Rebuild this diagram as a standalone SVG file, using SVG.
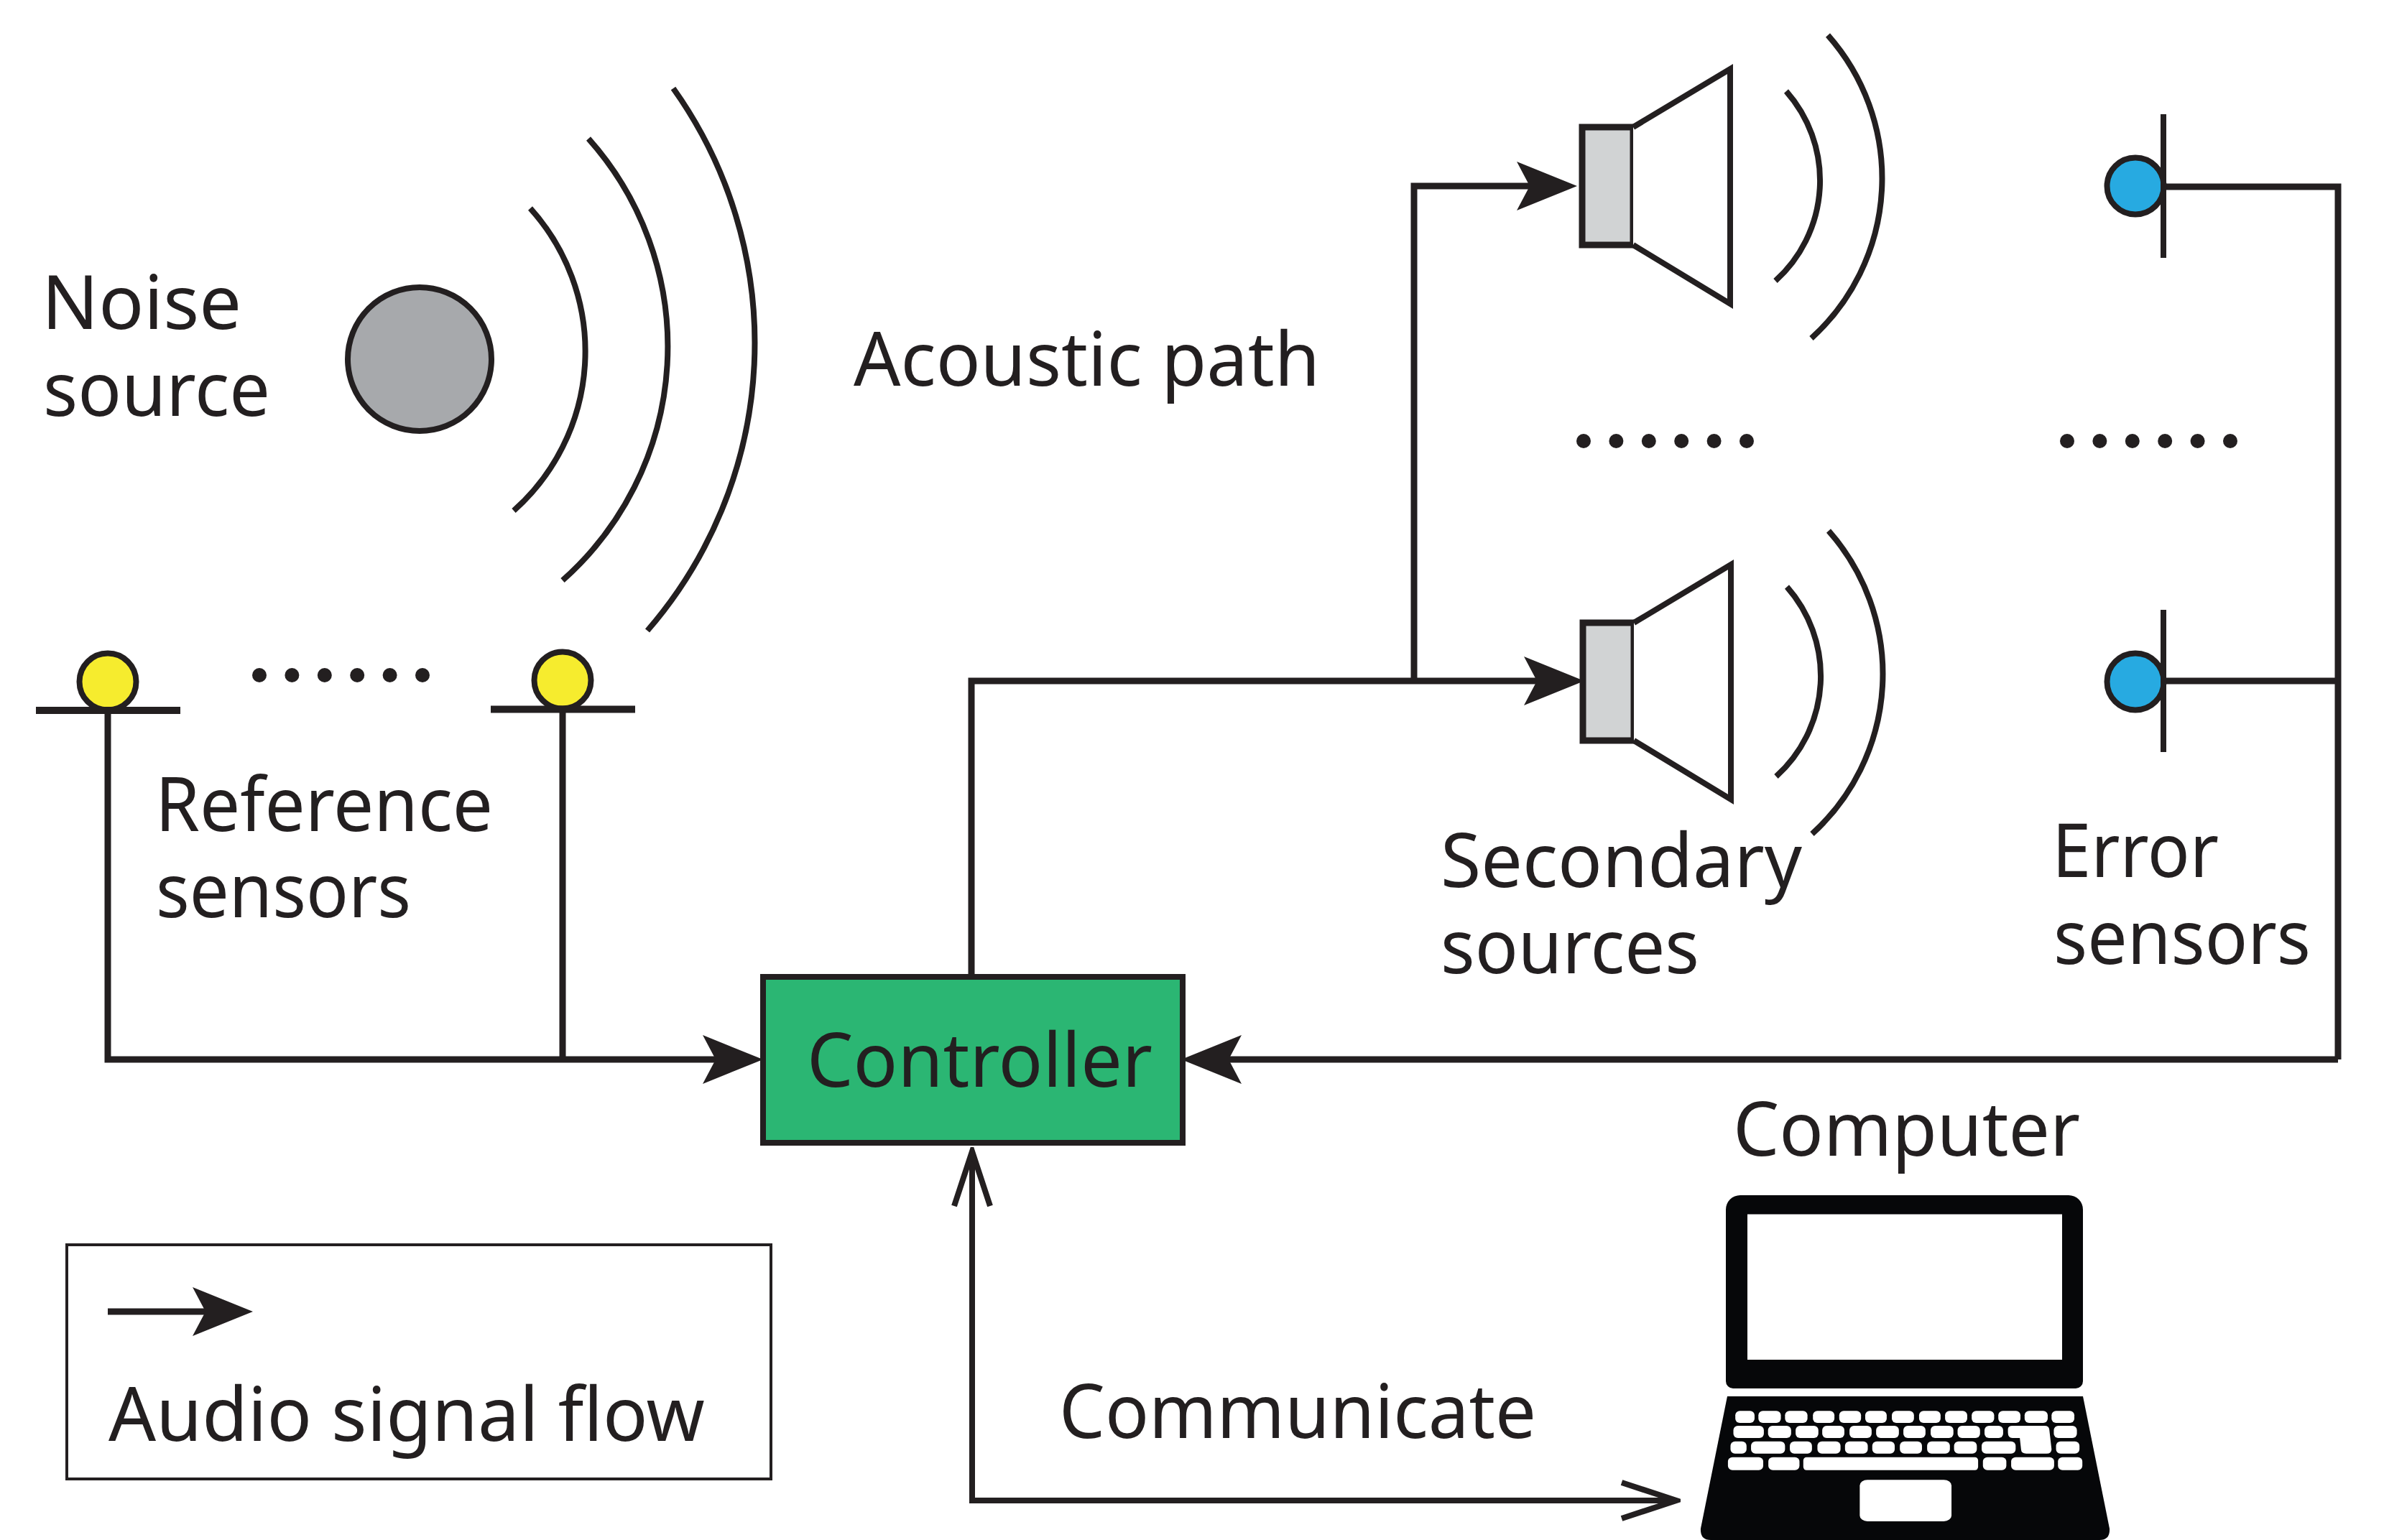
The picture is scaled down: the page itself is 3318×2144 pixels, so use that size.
<svg xmlns="http://www.w3.org/2000/svg" width="3318" height="2144" viewBox="0 0 3318 2144">
<style>
text{font-family:"Noto Sans","Open Sans","Liberation Sans",sans-serif;font-size:104px;fill:#231f20}
.ln{fill:none;stroke:#231f20;stroke-width:9;stroke-linejoin:miter}
.arc{fill:none;stroke:#231f20;stroke-width:8}
.thin{fill:none;stroke:#231f20;stroke-width:8}
.yel{fill:#f6ec2e;stroke:#231f20;stroke-width:8}
.blu{fill:#27aae1;stroke:#231f20;stroke-width:8}
.dot{fill:#231f20}
.key{fill:#fff}
.arw{marker-end:url(#solid)}
.opn{marker-start:url(#open);marker-end:url(#open)}
</style>
<defs>
<marker id="solid" markerUnits="userSpaceOnUse" viewBox="0 -36 84 72" refX="22" refY="0" markerWidth="84" markerHeight="72" orient="auto"><path d="M0-34L18 0L0 34L84 0Z" fill="#231f20"/></marker>
<marker id="open" markerUnits="userSpaceOnUse" viewBox="-84 -32 90 64" refX="0" refY="0" markerWidth="90" markerHeight="64" orient="auto-start-reverse"><path d="M-76-25L0 0L-76 25" fill="none" stroke="#231f20" stroke-width="8"/></marker>
<g id="dots6"><circle cx="0" cy="0" r="10" class="dot"/><circle cx="45.4" cy="0" r="10" class="dot"/><circle cx="90.8" cy="0" r="10" class="dot"/><circle cx="136.2" cy="0" r="10" class="dot"/><circle cx="181.6" cy="0" r="10" class="dot"/><circle cx="227" cy="0" r="10" class="dot"/></g>
<g id="spk"><rect x="2202" y="177" width="71" height="164" fill="#d1d3d4" stroke="#231f20" stroke-width="9"/><path d="M2273 177L2408 96V423L2273 341" fill="#fff" stroke="#231f20" stroke-width="8"/><path class="arc" d="M2486 127A188 188 0 0 1 2471 391"/><path class="arc" d="M2544 49A301 301 0 0 1 2521 471"/></g>
</defs>
<rect width="3318" height="2144" fill="#fff"/>
<g id="connectors">
<path class="ln arw" d="M150 994V1475H1000"/>
<path class="ln" d="M783 992V1475"/>
<path class="ln arw" d="M3254 1475H1706"/>
<path class="ln" d="M3011 260H3254V1475"/>
<path class="ln" d="M3011 948H3254"/>
<path class="ln arw" d="M1352 1360V948H2143"/>
<path class="ln arw" d="M1968 948V259H2133"/>
<path class="opn" fill="none" stroke="#231f20" stroke-width="8" d="M1353 1603V2089H2333"/>
</g>
<g id="noise-source"><circle cx="584" cy="500" r="100" fill="#a7a9ac" stroke="#231f20" stroke-width="8"/>
<text x="58" y="458" textLength="278" lengthAdjust="spacingAndGlyphs">Noise</text><text x="60" y="579" textLength="316" lengthAdjust="spacingAndGlyphs">source</text></g>
<g id="acoustic-path"><path class="arc" d="M738 290A297 297 0 0 1 715 711"/><path class="arc" d="M819 193A435 435 0 0 1 783 808"/><path class="arc" d="M937 123A611 611 0 0 1 901 878"/>
<text x="1188" y="537" textLength="649" lengthAdjust="spacingAndGlyphs">Acoustic path</text></g>
<g id="reference-sensors"><circle class="yel" cx="150" cy="949" r="39.500"/><path class="ln" style="stroke-width:10" d="M50 989H251"/><circle class="yel" cx="783" cy="947" r="39.500"/><path class="ln" style="stroke-width:10" d="M683 987.500H884"/>
<use href="#dots6" x="361" y="940"/>
<text x="216" y="1157" textLength="470" lengthAdjust="spacingAndGlyphs">Reference</text><text x="217" y="1277" textLength="355" lengthAdjust="spacingAndGlyphs">sensors</text></g>
<g id="controller"><rect x="1062" y="1360" width="584" height="231" fill="#2bb673" stroke="#231f20" stroke-width="8"/><text x="1123" y="1513" textLength="481" lengthAdjust="spacingAndGlyphs">Controller</text></g>
<g id="secondary-sources"><use href="#spk"/><use href="#spk" x="1" y="690"/>
<use href="#dots6" x="2204" y="614"/>
<text x="2005" y="1235" textLength="503" lengthAdjust="spacingAndGlyphs">Secondary</text><text x="2005" y="1355" textLength="360" lengthAdjust="spacingAndGlyphs">sources</text></g>
<g id="error-sensors"><circle class="blu" cx="2972" cy="259" r="39.500"/><path class="thin" d="M3011 159V359"/><circle class="blu" cx="2972" cy="949" r="39.500"/><path class="thin" d="M3011 849V1047"/>
<use href="#dots6" x="2877" y="614"/>
<text x="2856" y="1221" textLength="232" lengthAdjust="spacingAndGlyphs">Error</text><text x="2858" y="1342" textLength="358" lengthAdjust="spacingAndGlyphs">sensors</text></g>
<g id="computer">
<text x="2412" y="1609" textLength="483" lengthAdjust="spacingAndGlyphs">Computer</text>
<path fill="#060709" d="M2422 1664H2879A20 20 0 0 1 2899 1684V1923A10 10 0 0 1 2889 1933H2412A10 10 0 0 1 2402 1923V1684A20 20 0 0 1 2422 1664ZM2432 1690.500V1893H2870V1690.500Z" fill-rule="evenodd"/>
<path fill="#060709" d="M2404 1944H2899L2936 2128Q2937 2144 2922 2144H2381Q2366 2144 2367 2128Z"/>
<g transform="translate(2300 1620) scale(.4464 .3342)" class="key">
<rect x="258" y="1030" width="60" height="50" rx="14" ry="18"/><rect x="330" y="1030" width="70" height="50" rx="14" ry="18"/><rect x="413" y="1030" width="70" height="50" rx="14" ry="18"/><rect x="500" y="1030" width="67" height="50" rx="14" ry="18"/><rect x="582" y="1030" width="68" height="50" rx="14" ry="18"/><rect x="663" y="1030" width="67" height="50" rx="14" ry="18"/><rect x="746" y="1030" width="69" height="50" rx="14" ry="18"/><rect x="831" y="1030" width="67" height="50" rx="14" ry="18"/><rect x="912" y="1030" width="69" height="50" rx="14" ry="18"/><rect x="995" y="1030" width="70" height="50" rx="14" ry="18"/><rect x="1078" y="1030" width="69" height="50" rx="14" ry="18"/><rect x="1160" y="1030" width="72" height="50" rx="14" ry="18"/><rect x="1244" y="1030" width="71" height="50" rx="14" ry="18"/>
<rect x="252" y="1092" width="95" height="51" rx="14" ry="18"/><rect x="360" y="1092" width="72" height="51" rx="14" ry="18"/><rect x="446" y="1092" width="71" height="51" rx="14" ry="18"/><rect x="529" y="1092" width="69" height="51" rx="14" ry="18"/><rect x="614" y="1092" width="69" height="51" rx="14" ry="18"/><rect x="697" y="1092" width="71" height="51" rx="14" ry="18"/><rect x="782" y="1092" width="69" height="51" rx="14" ry="18"/><rect x="867" y="1092" width="71" height="51" rx="14" ry="18"/><rect x="951" y="1092" width="70" height="51" rx="14" ry="18"/><rect x="1035" y="1092" width="58" height="51" rx="14" ry="18"/><path d="M1122 1092H1222Q1236 1092 1237 1108L1244 1190Q1244 1208 1228 1208H1165Q1150 1208 1149 1192L1145 1143H1122Q1108 1143 1108 1120V1106Q1108 1092 1122 1092Z"/><rect x="1251" y="1092" width="72" height="51" rx="14" ry="18"/>
<rect x="243" y="1157" width="50" height="51" rx="14" ry="18"/><rect x="307" y="1157" width="106" height="51" rx="14" ry="18"/><rect x="428" y="1157" width="69" height="51" rx="14" ry="18"/><rect x="514" y="1157" width="72" height="51" rx="14" ry="18"/><rect x="600" y="1157" width="71" height="51" rx="14" ry="18"/><rect x="685" y="1157" width="70" height="51" rx="14" ry="18"/><rect x="771" y="1157" width="69" height="51" rx="14" ry="18"/><rect x="856" y="1157" width="71" height="51" rx="14" ry="18"/><rect x="940" y="1157" width="71" height="51" rx="14" ry="18"/><rect x="1026" y="1157" width="106" height="51" rx="14" ry="18"/><rect x="1258" y="1157" width="73" height="51" rx="14" ry="18"/>
<rect x="235" y="1223" width="110" height="54" rx="14" ry="18"/><rect x="361" y="1223" width="97" height="54" rx="14" ry="18"/><rect x="470" y="1223" width="545" height="54" rx="10" ry="14"/><rect x="1030" y="1223" width="73" height="54" rx="14" ry="18"/><rect x="1118" y="1223" width="134" height="54" rx="14" ry="18"/><rect x="1264" y="1223" width="76" height="54" rx="14" ry="18"/>
<rect x="646" y="1317" width="286" height="173" rx="24" ry="24"/>
</g></g>
<g id="communicate"><text x="1474" y="2002" textLength="664" lengthAdjust="spacingAndGlyphs">Communicate</text></g>
<g id="legend"><rect x="93" y="1733" width="980" height="326" fill="none" stroke="#231f20" stroke-width="4"/><path class="ln arw" d="M150 1826H290"/><text x="151" y="2006" textLength="830" lengthAdjust="spacingAndGlyphs">Audio signal flow</text></g>
</svg>
